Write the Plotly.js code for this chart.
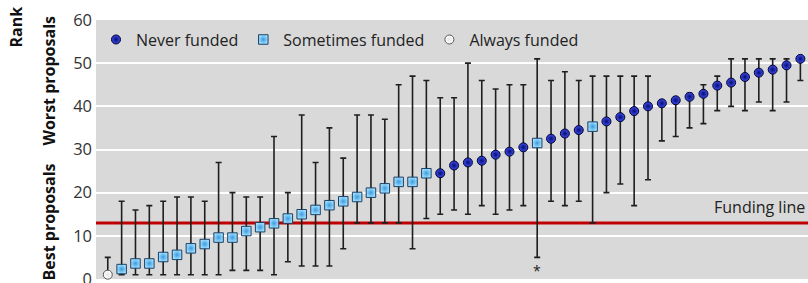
<!DOCTYPE html>
<html>
<head>
<meta charset="utf-8">
<script src="https://cdn.plot.ly/plotly-3.0.1.min.js"></script>
<style>html,body{margin:0;padding:0;background:#fff;}#chart{width:808px;height:283px;}</style>
</head>
<body>
<div id="chart"></div>
<script>
// Proposal index (ordered by mean rank)
const status = ['Always',
  'Sometimes','Sometimes','Sometimes','Sometimes','Sometimes','Sometimes','Sometimes','Sometimes','Sometimes','Sometimes',
  'Sometimes','Sometimes','Sometimes','Sometimes','Sometimes','Sometimes','Sometimes','Sometimes','Sometimes','Sometimes',
  'Sometimes','Sometimes','Sometimes',
  'Never','Never','Never','Never','Never','Never','Never',
  'Sometimes',
  'Never','Never','Never',
  'Sometimes',
  'Never','Never','Never','Never','Never','Never','Never','Never','Never','Never','Never','Never','Never','Never','Never'];
const meanRank = [1, 2.3, 3.6, 3.6, 5.1, 5.6, 7.1, 8.1, 9.6, 9.6, 11.1, 12, 12.9, 14, 15, 16, 17.1, 18, 19, 20, 21, 22.5, 22.5, 24.5,
  24.5, 26.3, 27, 27.4, 28.8, 29.5, 30.5, 31.5, 32.5, 33.7, 34.5, 35.3, 36.5, 37.5, 38.9, 40, 40.7, 41.4, 42.2, 42.9, 44.8, 45.5,
  46.8, 47.8, 48.5, 49.5, 51];
const maxRank = [5, 18, 16, 17, 18, 19, 19, 18, 27, 20, 19, 19, 33, 20, 38, 27, 35, 28, 38, 38, 37, 45, 47, 46,
  42, 42, 50, 46, 44, 45, 45, 51, 46, 48, 46, 47, 47, 47, 47, 47, 41, 42, 43, 45, 47, 51,
  51, 51, 51, 51, 51];
const minRank = [1, 1, 1, 1, 1, 1, 1, 1, 1, 2, 2, 2, 1, 4, 3, 3, 3, 7, 13, 13, 13, 13, 7, 14,
  15, 16, 15, 17, 15, 16, 17, 5, 18, 17, 18, 13, 20, 22, 17, 23, 32, 33, 35, 36, 39, 40,
  39, 41, 39, 41, 46];
const fundingLine = 13;
const yTicks = [0, 10, 20, 30, 40, 50, 60];
const groups = ['Never', 'Sometimes', 'Always'];
const groupNames = {Never: 'Never funded', Sometimes: 'Sometimes funded', Always: 'Always funded'};

const markerStyle = {
  Never: {symbol: 'circle', size: 9, color: '#3a4ff0', gradient: {type: 'radial', color: '#0a0a70'}, line: {color: '#000028', width: 1}},
  Sometimes: {symbol: 'square', size: 9.5, color: '#a0e0ff', gradient: {type: 'radial', color: '#3a9ae0'}, line: {color: '#1b3f66', width: 1}},
  Always: {symbol: 'circle', size: 9, color: '#ffffff', gradient: {type: 'radial', color: '#e6e6e6'}, line: {color: '#555555', width: 1}}
};

const traces = groups.map(g => {
  const idx = [];
  status.forEach((s, i) => { if (s === g) idx.push(i); });
  return {
    type: 'scatter', mode: 'markers', name: groupNames[g],
    x: idx,
    y: idx.map(i => meanRank[i]),
    error_y: {type: 'data', symmetric: false,
      array: idx.map(i => maxRank[i] - meanRank[i]),
      arrayminus: idx.map(i => meanRank[i] - minRank[i]),
      color: '#1e1e1e', thickness: 1.6, width: 3},
    marker: markerStyle[g],
    cliponaxis: false,
    hoverinfo: 'skip'
  };
});

const font = 'Open Sans, Lato, sans-serif';
const layout = {
  width: 808, height: 283,
  margin: {l: 96, r: 0, t: 20, b: 4},
  paper_bgcolor: '#ffffff',
  plot_bgcolor: '#d9d9d9',
  showlegend: true,
  legend: {orientation: 'h', x: 0, xanchor: 'left', y: 0.99, yanchor: 'top',
    bgcolor: 'rgba(0,0,0,0)', font: {family: font, size: 16, color: '#222'}, itemwidth: 30, tracegroupgap: 0},
  xaxis: {range: [-0.85, 50.55], showgrid: false, zeroline: false, showticklabels: false, ticks: '', showline: false, fixedrange: true},
  yaxis: {range: [0, 60], tickvals: yTicks, ticktext: yTicks.map(String), showgrid: true, gridcolor: '#ffffff', gridwidth: 2,
    zeroline: false, showline: false, ticks: '', ticklen: 0, ticklabeloverflow: 'allow', ticklabelstandoff: 3,
    tickfont: {family: font, size: 16.5, color: '#333'}, fixedrange: true},
  shapes: [{type: 'line', xref: 'paper', x0: 0, x1: 1, yref: 'y', y0: fundingLine, y1: fundingLine,
    line: {color: '#c00000', width: 3}, layer: 'between'}],
  annotations: [
    {text: '<b>Rank</b>', xref: 'paper', yref: 'paper', x: -96/712 + 15/712, y: (278.5-27)/259, textangle: -90, showarrow: false,
      font: {family: font, size: 16, color: '#111'}, xanchor: 'center', yanchor: 'middle'},
    {text: '<b>Worst proposals</b>', xref: 'paper', yref: 'paper', x: -96/712 + 48/712, y: (278.5-80)/259, textangle: -90, showarrow: false,
      font: {family: font, size: 16, color: '#111'}, xanchor: 'center', yanchor: 'middle'},
    {text: '<b>Best proposals</b>', xref: 'paper', yref: 'paper', x: -96/712 + 48/712, y: (278.5-222)/259, textangle: -90, showarrow: false,
      font: {family: font, size: 16, color: '#111'}, xanchor: 'center', yanchor: 'middle'},
    {text: 'Funding line', xref: 'paper', yref: 'y', x: 1, y: fundingLine, xanchor: 'right', yanchor: 'bottom', yshift: 3, xshift: -1,
      showarrow: false, font: {family: font, size: 16, color: '#222'}},
    {text: '*', xref: 'x', yref: 'y', x: 31, y: minRank[31], xanchor: 'center', yanchor: 'top', yshift: -2,
      showarrow: false, font: {family: font, size: 14, color: '#222'}}
  ]
};

Plotly.newPlot('chart', traces, layout, {displayModeBar: false, staticPlot: true});
</script>
</body>
</html>
